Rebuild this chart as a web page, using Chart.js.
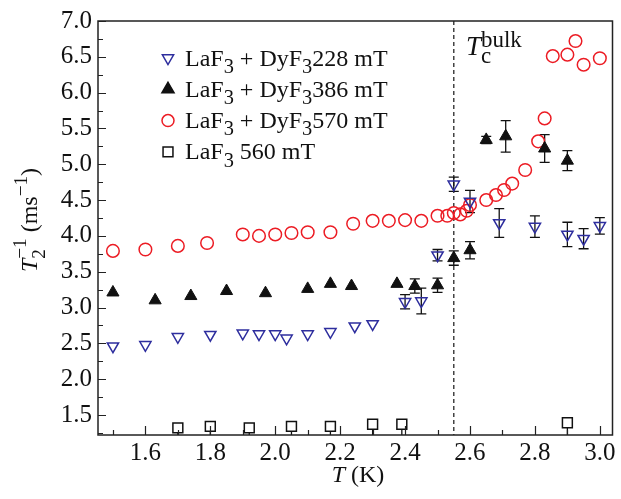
<!DOCTYPE html>
<html><head><meta charset="utf-8">
<script src="https://cdn.jsdelivr.net/npm/chart.js@4/dist/chart.umd.min.js"></script>
<style>html,body{margin:0;padding:0;background:#fff;}</style>
</head><body>
<canvas id="c" width="621" height="499"></canvas>
<script>
// ---------- data ----------
const xTickLabels = [1.6, 1.8, 2.0, 2.2, 2.4, 2.6, 2.8, 3.0];
const yTickLabels = [1.5, 2.0, 2.5, 3.0, 3.5, 4.0, 4.5, 5.0, 5.5, 6.0, 6.5, 7.0];
const seriesNames = ['LaF₃ + DyF₃228 mT', 'LaF₃ + DyF₃386 mT', 'LaF₃ + DyF₃570 mT', 'LaF₃ 560 mT'];
const Tc = 2.55;

const x228 = [1.50,1.60,1.70,1.80,1.90,1.95,2.00,2.035,2.10,2.17,2.245,2.30,2.40,2.45,2.50,2.55,2.60,2.69,2.80,2.90,2.95,3.00];
const y228 = [2.46,2.48,2.59,2.62,2.64,2.63,2.63,2.57,2.63,2.66,2.74,2.77,3.08,3.09,3.73,4.72,4.48,4.18,4.13,4.02,3.96,4.14];
const e228 = [null,null,null,null,null,null,null,null,null,null,null,null,0.10,0.18,0.08,0.10,0.155,0.20,0.15,0.17,0.14,0.115];

const x386 = [1.50,1.63,1.74,1.85,1.97,2.10,2.17,2.235,2.375,2.43,2.50,2.55,2.60,2.65,2.71,2.83,2.90];
const y386 = [3.21,3.10,3.16,3.23,3.20,3.26,3.33,3.30,3.33,3.30,3.31,3.69,3.80,5.34,5.39,5.22,5.05];
const e386 = [null,null,null,null,null,null,null,null,null,0.10,0.10,0.10,0.12,0.05,0.22,0.195,0.14];

const x570 = [1.50,1.60,1.70,1.79,1.90,1.95,2.00,2.05,2.10,2.17,2.24,2.30,2.35,2.40,2.45,2.50,2.53,2.55,2.57,2.59,2.60,2.65,2.68,2.705,2.73,2.77,2.81,2.83,2.855,2.90,2.925,2.95,3.00];
const y570 = [3.79,3.81,3.86,3.90,4.02,4.00,4.02,4.04,4.05,4.05,4.17,4.21,4.21,4.22,4.21,4.28,4.28,4.32,4.30,4.35,4.43,4.50,4.57,4.64,4.73,4.92,5.32,5.64,6.51,6.53,6.72,6.39,6.48];

const x560 = [1.70,1.80,1.92,2.05,2.17,2.30,2.39,2.90];
const y560 = [1.32,1.34,1.32,1.34,1.34,1.37,1.37,1.39];
const e560 = [0.12,0.14,0.12,0.14,0.14,0.17,0.17,0.19];

// ---------- helpers ----------
const FONT = '"Liberation Serif", "Times New Roman", Times, serif';
const toPts = (xs, ys) => xs.map((x, i) => ({x: x, y: ys[i]}));

function drawRich(ctx, segs, x, y, size, doDraw) {
  let cx = x;
  for (const s of segs) {
    if (s.k === 'n' || s.k === 'it') {
      ctx.font = (s.k === 'it' ? 'italic ' : '') + size + 'px ' + FONT;
      if (doDraw) ctx.fillText(s.t, cx, y);
      cx += ctx.measureText(s.t).width;
    } else if (s.k === 'sub' || s.k === 'sup') {
      const fs = size * (s.f || 0.8);
      ctx.font = fs + 'px ' + FONT;
      const dy = s.k === 'sub' ? size * 0.3 : -size * 0.42;
      if (doDraw) ctx.fillText(s.t, cx, y + dy);
      cx += ctx.measureText(s.t).width;
    } else if (s.k === 'ss') {
      const fs = size * (s.f || 0.8);
      ctx.font = fs + 'px ' + FONT;
      const w1 = ctx.measureText(s.sub).width, w2 = ctx.measureText(s.sup).width;
      if (doDraw) {
        ctx.fillText(s.sub, cx, y + size * (s.dsub || 0.3));
        ctx.fillText(s.sup, cx, y - size * (s.dsup || 0.42));
      }
      cx += Math.max(w1, w2);
    }
  }
  return cx - x;
}
function parseSub(str) {
  const segs = []; let buf = '';
  for (const ch of str) {
    if (ch === '₃') { if (buf) segs.push({k:'n', t:buf}); buf=''; segs.push({k:'sub', t:'3', f:0.85}); }
    else buf += ch;
  }
  if (buf) segs.push({k:'n', t:buf});
  return segs;
}
function marker(ctx, style, x, y, r, fill, stroke, lw) {
  ctx.save();
  ctx.beginPath();
  if (style === 'tri' || style === 'triDown') {
    const sgn = style === 'tri' ? -1 : 1;
    for (let k = 0; k < 3; k++) {
      const a = Math.PI / 2 * sgn + k * 2 * Math.PI / 3;
      const px = x + r * Math.cos(a), py = y + r * Math.sin(a);
      k ? ctx.lineTo(px, py) : ctx.moveTo(px, py);
    }
    ctx.closePath();
  } else if (style === 'circle') {
    ctx.arc(x, y, r, 0, Math.PI * 2);
  } else {
    const s = r * Math.SQRT1_2;
    ctx.rect(x - s, y - s, 2 * s, 2 * s);
  }
  if (fill) { ctx.fillStyle = fill; ctx.fill(); }
  ctx.lineWidth = lw; ctx.strokeStyle = stroke; ctx.stroke();
  ctx.restore();
}

const BLUE = '#2e2e9e', RED = '#ec1c24', BLACK = '#111';

const legendItems = [
  {style:'triDown', fill:null, stroke:BLUE, r:6.5},
  {style:'tri', fill:BLACK, stroke:BLACK, r:7},
  {style:'circle', fill:null, stroke:RED, r:6},
  {style:'rect', fill:'#fff', stroke:BLACK, r:7}
];

const decor = {
  id: 'decor',
  beforeDatasetsDraw(chart) {
    const ctx = chart.ctx, xs = chart.scales.x, ys = chart.scales.y, a = chart.chartArea;
    ctx.save();
    ctx.beginPath(); ctx.rect(a.left, a.top, a.right - a.left, a.bottom - a.top); ctx.clip();
    // dashed Tc line
    ctx.strokeStyle = '#444'; ctx.lineWidth = 1.5; ctx.setLineDash([4, 3]);
    const tx = xs.getPixelForValue(Tc);
    ctx.beginPath(); ctx.moveTo(tx, a.top); ctx.lineTo(tx, a.bottom); ctx.stroke();
    ctx.setLineDash([]);
    // error bars
    ctx.strokeStyle = BLACK; ctx.lineWidth = 1.3;
    chart.data.datasets.forEach(ds => {
      if (!ds.err) return;
      ds.data.forEach((p, i) => {
        const e = ds.err[i]; if (e == null) return;
        const px = xs.getPixelForValue(p.x);
        const yTop = ys.getPixelForValue(ds.lowerOnly ? p.y : p.y + e);
        const yBot = ys.getPixelForValue(p.y - e);
        ctx.beginPath(); ctx.moveTo(px, yTop); ctx.lineTo(px, yBot);
        if (!ds.lowerOnly) {
          ctx.moveTo(px - 5, yTop); ctx.lineTo(px + 5, yTop);
          ctx.moveTo(px - 5, yBot); ctx.lineTo(px + 5, yBot);
        }
        ctx.stroke();
      });
    });
    ctx.restore();
  },
  afterDraw(chart) {
    const ctx = chart.ctx, xs = chart.scales.x, ys = chart.scales.y, a = chart.chartArea;
    ctx.save();
    ctx.strokeStyle = '#222'; ctx.lineWidth = 1.5;
    ctx.strokeRect(a.left, a.top, a.right - a.left, a.bottom - a.top);
    // ticks inward
    ctx.lineWidth = 1.2;
    ctx.beginPath();
    for (let v = 1.5; v <= 3.0001; v += 0.1) {
      const px = Math.round(xs.getPixelForValue(v)) + 0.5;
      const major = xTickLabels.some(t => Math.abs(t - v) < 1e-6);
      ctx.moveTo(px, a.bottom); ctx.lineTo(px, a.bottom - (major ? 9 : 5));
    }
    for (let v = 1.25; v <= 7.0001; v += 0.25) {
      const py = Math.round(ys.getPixelForValue(v)) + 0.5;
      const major = yTickLabels.some(t => Math.abs(t - v) < 1e-6);
      ctx.moveTo(a.left, py); ctx.lineTo(a.left + (major ? 8 : 5), py);
    }
    ctx.stroke();
    // legend
    ctx.fillStyle = '#111'; ctx.textBaseline = 'alphabetic'; ctx.textAlign = 'left';
    seriesNames.forEach((name, i) => {
      const my = 58 + i * 31.3;
      const it = legendItems[i];
      marker(ctx, it.style, 168, my, it.r, it.fill, it.stroke, 1.5);
      ctx.fillStyle = '#111';
      drawRich(ctx, parseSub(name), 185, my + 7.5, 24, true);
    });
    // Tc label
    drawRich(ctx, [{k:'it', t:'T'}, {k:'ss', sub:'c', sup:'bulk', f:0.85, dsub:0.3, dsup:0.3}], 466, 55, 27, true);
    // x title
    const xt = [{k:'it', t:'T'}, {k:'n', t:' (K)'}];
    const w = drawRich(ctx, xt, 0, 0, 24, false);
    drawRich(ctx, xt, 358 - w / 2, 482, 24, true);
    // y title
    const yt = [{k:'it', t:'T'}, {k:'ss', sub:'2', sup:'−1', f:0.8, dsub:0.35, dsup:0.45}, {k:'n', t:' (ms'}, {k:'sup', t:'−1', f:0.8}, {k:'n', t:')'}];
    const wy = drawRich(ctx, yt, 0, 0, 24, false);
    ctx.translate(37, 220); ctx.rotate(-Math.PI / 2);
    drawRich(ctx, yt, -wy / 2, 0, 24, true);
    ctx.restore();
  }
};

new Chart(document.getElementById('c'), {
  type: 'scatter',
  data: {
    datasets: [
      {label: seriesNames[0], data: toPts(x228, y228), err: e228, pointStyle: 'triangle', rotation: 180,
       pointRadius: 6.5, borderColor: BLUE, backgroundColor: 'rgba(0,0,0,0)', borderWidth: 1.5},
      {label: seriesNames[1], data: toPts(x386, y386), err: e386, pointStyle: 'triangle',
       pointRadius: 7, borderColor: BLACK, backgroundColor: BLACK, borderWidth: 1},
      {label: seriesNames[2], data: toPts(x570, y570), pointStyle: 'circle',
       pointRadius: 6.3, borderColor: RED, backgroundColor: 'rgba(0,0,0,0)', borderWidth: 1.5},
      {label: seriesNames[3], data: toPts(x560, y560), err: e560, lowerOnly: true, pointStyle: 'rect',
       pointRadius: 7, borderColor: BLACK, backgroundColor: '#fff', borderWidth: 1.5}
    ]
  },
  options: {
    responsive: false, animation: false, devicePixelRatio: 1,
    layout: {padding: {top: 13, right: 4, left: 0, bottom: 0}},
    plugins: {legend: {display: false}, tooltip: {enabled: false}},
    scales: {
      x: {type: 'linear', min: 1.454, max: 3.039,
          afterBuildTicks: s => { s.ticks = xTickLabels.map(v => ({value: v})); },
          afterFit: s => { s.height = 64; },
          grid: {display: false, drawTicks: false}, border: {display: false},
          ticks: {font: {family: FONT, size: 25}, color: '#111', padding: 3, maxRotation: 0, autoSkip: false,
                  callback: v => Number(v).toFixed(1)}},
      y: {type: 'linear', min: 1.22, max: 7.0,
          afterBuildTicks: s => { s.ticks = yTickLabels.map(v => ({value: v})); },
          afterFit: s => { s.width = 98; },
          grid: {display: false, drawTicks: false}, border: {display: false},
          ticks: {font: {family: FONT, size: 25}, color: '#111', padding: 6, autoSkip: false,
                  callback: v => Number(v).toFixed(1)}}
    }
  },
  plugins: [decor]
});
</script>
</body></html>
